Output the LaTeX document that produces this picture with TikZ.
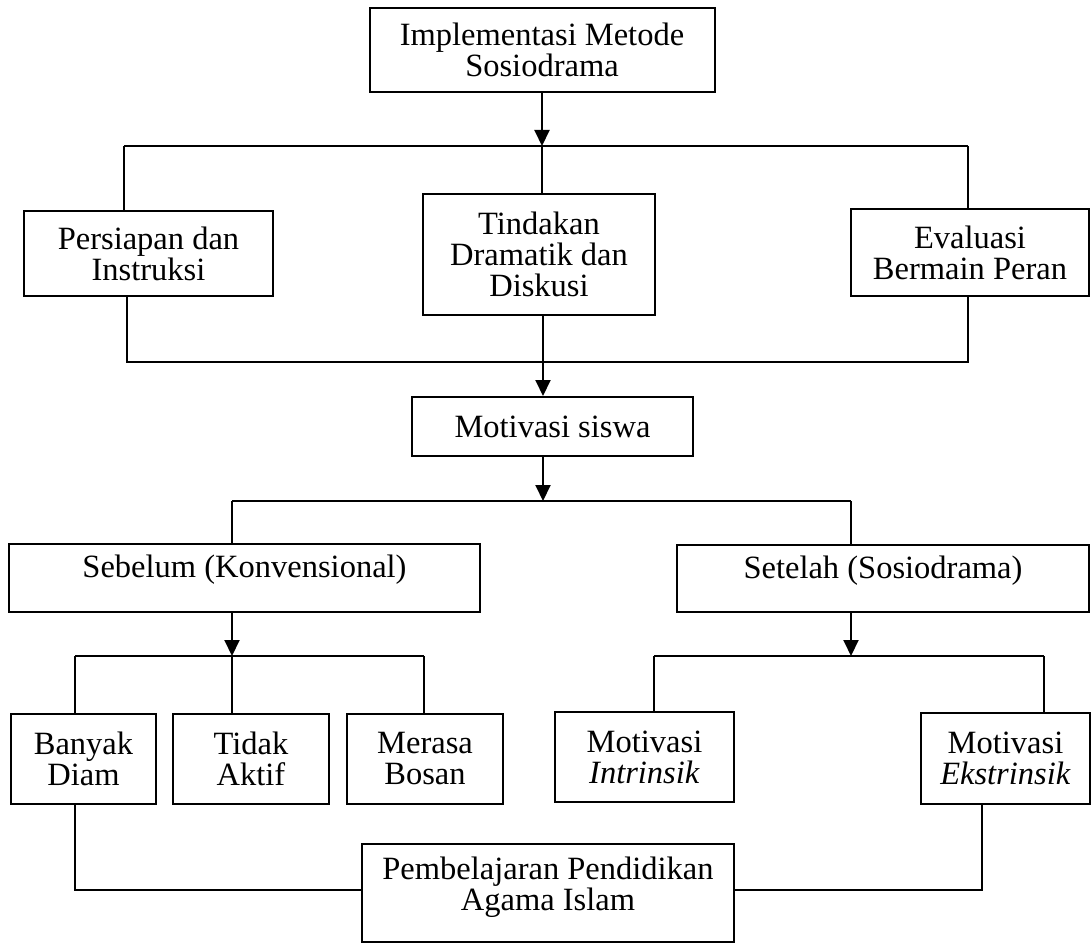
\documentclass[tikz,border=0pt]{standalone}
\usepackage{fontspec}
\setmainfont{Liberation Serif}
\usetikzlibrary{arrows.meta}
\begin{document}
\begin{tikzpicture}[x=1pt,y=-1pt,
  box/.style={draw, line width=2pt, inner sep=0pt, align=center,
    font=\fontsize{32.5}{31}\selectfont},
  conn/.style={line width=2pt},
  arr/.style={line width=2pt,-{Triangle[length=16pt,width=15pt]}}]
\useasboundingbox (0,0) rectangle (1092,944);

% boxes
\node[box, minimum width=345pt, minimum height=84pt] (top) at (542,50) {Implementasi Metode\\Sosiodrama};
\node[box, minimum width=249pt, minimum height=85pt] (persiapan) at (148.5,253.5) {Persiapan dan\\Instruksi};
\node[box, minimum width=232pt, minimum height=121pt] (tindakan) at (539,254.5) {Tindakan\\Dramatik dan\\Diskusi};
\node[box, minimum width=238pt, minimum height=87pt] (evaluasi) at (970,252.5) {Evaluasi\\Bermain Peran};
\node[box, minimum width=281pt, minimum height=59pt] (motivasi) at (552.5,426.5) {Motivasi siswa};
\node[box, minimum width=471pt, minimum height=68pt, text depth=23pt] (sebelum) at (244.5,578) {Sebelum (Konvensional)};
\node[box, minimum width=412pt, minimum height=67pt, text depth=23pt] (setelah) at (883,578.5) {Setelah (Sosiodrama)};
\node[box, minimum width=145pt, minimum height=90pt] (banyak) at (83.5,759) {Banyak\\Diam};
\node[box, minimum width=156pt, minimum height=90pt] (tidak) at (251,759) {Tidak\\Aktif};
\node[box, minimum width=156pt, minimum height=90pt] (merasa) at (425,759) {Merasa\\Bosan};
\node[box, minimum width=179pt, minimum height=90pt] (intrinsik) at (644.5,757) {Motivasi\\\textit{Intrinsik}};
\node[box, minimum width=169pt, minimum height=91pt] (ekstrinsik) at (1005.5,758.5) {Motivasi\\\textit{Ekstrinsik}};
\node[box, minimum width=372pt, minimum height=98pt, text depth=19pt] (pemb) at (548,893) {Pembelajaran Pendidikan\\Agama Islam};

% level 1
\coordinate (b1) at (542,146);
\coordinate (b1L) at (124,146);
\coordinate (b1R) at (968,146);
\draw[arr] (top.south -| b1) -- (b1);
\draw[conn] (b1L) -- (b1R);
\draw[conn] (b1L) -- (b1L |- persiapan.north);
\draw[conn] (b1) -- (b1 |- tindakan.north);
\draw[conn] (b1R) -- (b1R |- evaluasi.north);

% level 2 join
\coordinate (b2L) at (127,362);
\coordinate (b2R) at (968,362);
\draw[conn] (b2L |- persiapan.south) -- (b2L) -- (b2R) -- (b2R |- evaluasi.south);
\coordinate (m1) at (543,362);
\draw[arr] (m1 |- tindakan.south) -- (m1 |- motivasi.north);

% level 3
\coordinate (b3) at (543,501);
\coordinate (b3L) at (232,501);
\coordinate (b3R) at (851,501);
\draw[arr] (motivasi.south -| b3) -- (b3);
\draw[conn] (b3L) -- (b3R);
\draw[conn] (b3L) -- (b3L |- sebelum.north);
\draw[conn] (b3R) -- (b3R |- setelah.north);

% level 4 left
\coordinate (b4) at (232,656);
\coordinate (b4L) at (75,656);
\coordinate (b4R) at (424,656);
\draw[arr] (sebelum.south -| b4) -- (b4);
\draw[conn] (b4L) -- (b4R);
\draw[conn] (b4L) -- (b4L |- banyak.north);
\draw[conn] (b4) -- (b4 |- tidak.north);
\draw[conn] (b4R) -- (b4R |- merasa.north);

% level 4 right
\coordinate (b5) at (851,656);
\coordinate (b5L) at (654,656);
\coordinate (b5R) at (1044,656);
\draw[arr] (setelah.south -| b5) -- (b5);
\draw[conn] (b5L) -- (b5R);
\draw[conn] (b5L) -- (b5L |- intrinsik.north);
\draw[conn] (b5R) -- (b5R |- ekstrinsik.north);

% bottom
\coordinate (c1) at (75,890);
\coordinate (c2) at (982,890);
\draw[conn] (c1 |- banyak.south) -- (c1) -- (c1 -| pemb.west);
\draw[conn] (c2 |- ekstrinsik.south) -- (c2) -- (c2 -| pemb.east);
\end{tikzpicture}
\end{document}
